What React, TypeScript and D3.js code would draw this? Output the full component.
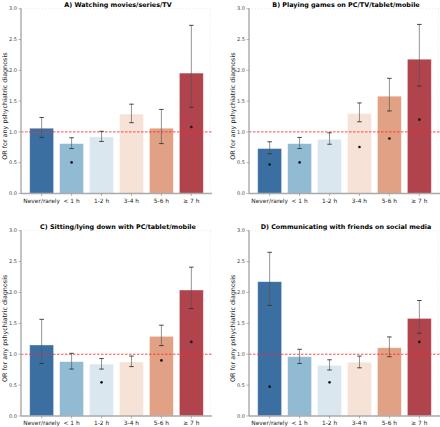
import React from "react";
import * as d3 from "d3";

const categories = ["Never/rarely", "< 1 h", "1-2 h", "3-4 h", "5-6 h", "\u2265 7 h"];
const colors = ["#3b6fa1", "#90bbd3", "#dbe7ef", "#f6e2d6", "#e1a184", "#b0434b"];
const yTicks = [0, 0.5, 1.0, 1.5, 2.0, 2.5, 3.0];

const titles = [
  "A) Watching movies/series/TV",
  "B) Playing games on PC/TV/tablet/mobile",
  "C) Sitting/lying down with PC/tablet/mobile",
  "D) Communicating with friends on social media",
];

const barsA = [1.06, 0.81, 0.92, 1.29, 1.06, 1.955];
const loA = [0.91, 0.73, 0.845, 1.15, 0.81, 1.40];
const hiA = [1.235, 0.905, 1.01, 1.45, 1.365, 2.73];
const dotsA = [null, 0.505, null, null, null, 1.08];

const barsB = [0.73, 0.81, 0.88, 1.30, 1.58, 2.18];
const loB = [0.645, 0.73, 0.80, 1.165, 1.34, 1.745];
const hiB = [0.84, 0.91, 0.985, 1.47, 1.87, 2.745];
const dotsB = [0.47, 0.505, null, 0.755, 0.893, 1.20];

const barsC = [1.15, 0.88, 0.84, 0.875, 1.29, 2.04];
const loC = [0.85, 0.76, 0.76, 0.80, 1.14, 1.74];
const hiC = [1.565, 1.015, 0.93, 0.97, 1.47, 2.41];
const dotsC = [null, null, 0.545, null, 0.90, 1.20];

const barsD = [2.175, 0.96, 0.82, 0.87, 1.106, 1.58];
const loD = [1.79, 0.85, 0.745, 0.78, 0.96, 1.34];
const hiD = [2.65, 1.08, 0.91, 0.97, 1.28, 1.87];
const dotsD = [0.475, null, 0.545, null, null, 1.20];

const panelData = [
  { bars: barsA, lo: loA, hi: hiA, dots: dotsA },
  { bars: barsB, lo: loB, hi: hiB, dots: dotsB },
  { bars: barsC, lo: loC, hi: hiC, dots: dotsC },
  { bars: barsD, lo: loD, hi: hiD, dots: dotsD },
];

const layouts = [
  { x0: 21, x1: 212, yTop: 8.7, yBot: 193.5 },
  { x0: 249, x1: 440, yTop: 8.7, yBot: 193.5 },
  { x0: 21, x1: 212, yTop: 230.7, yBot: 416 },
  { x0: 249, x1: 440, yTop: 230.7, yBot: 416 },
];

const FONT = "DejaVu Sans, sans-serif";

function Panel({ idx }: { idx: number }) {
  const L = layouts[idx];
  const D = panelData[idx];
  const x = d3.scaleLinear().domain([-0.69, 5.69]).range([L.x0, L.x1]);
  const y = d3.scaleLinear().domain([0, 3]).range([L.yBot, L.yTop]);
  const bw = x(0.8) - x(0);
  const cap = 4.5;
  return (
    <g>
      {/* faint dotted top/right frame */}
      <line x1={L.x0} x2={L.x1} y1={y(3)} y2={y(3)} stroke="#ddd" strokeWidth={0.6} strokeDasharray="1,2" />
      <line x1={L.x1 - 2} x2={L.x1 - 2} y1={y(3)} y2={L.yBot} stroke="#ddd" strokeWidth={0.6} strokeDasharray="1,2" />
      {D.bars.map((v, i) => (
        <rect
          key={"b" + i}
          x={x(i) - bw / 2}
          y={y(v)}
          width={bw}
          height={y(0) - y(v)}
          fill={colors[i]}
          stroke="#ffffff"
          strokeOpacity={0.5}
          strokeWidth={0.8}
        />
      ))}
      <line
        x1={L.x0}
        x2={L.x1}
        y1={y(1)}
        y2={y(1)}
        stroke="#ff2a2a"
        strokeOpacity={0.85}
        strokeWidth={1}
        strokeDasharray="2.5,1.5"
      />
      {D.bars.map((v, i) => (
        <g key={"e" + i}>
          <line x1={x(i)} x2={x(i)} y1={y(D.lo[i])} y2={y(D.hi[i])} stroke="#555" strokeOpacity={0.7} strokeWidth={0.9} />
          <line x1={x(i) - cap / 2} x2={x(i) + cap / 2} y1={y(D.lo[i])} y2={y(D.lo[i])} stroke="#333" strokeWidth={0.9} />
          <line x1={x(i) - cap / 2} x2={x(i) + cap / 2} y1={y(D.hi[i])} y2={y(D.hi[i])} stroke="#333" strokeWidth={0.9} />
        </g>
      ))}
      {D.dots.map((v, i) =>
        v == null ? null : <circle key={"d" + i} cx={x(i)} cy={y(v)} r={1.3} fill="#111" />
      )}
      {/* axes */}
      <line x1={L.x0} x2={L.x0} y1={y(3) - 0.5} y2={L.yBot} stroke="#aaa" strokeWidth={1.4} />
      <line x1={L.x0} x2={L.x1} y1={L.yBot} y2={L.yBot} stroke="#aaa" strokeWidth={1.4} />
      {yTicks.map((t) => (
        <g key={"yt" + t}>
          <line x1={L.x0 - 2.5} x2={L.x0} y1={y(t)} y2={y(t)} stroke="#888" strokeWidth={0.6} />
          <text x={L.x0 - 4} y={y(t)} dy="0.35em" textAnchor="end" fontSize={5} fill="#444" fontFamily={FONT}>
            {t.toFixed(1)}
          </text>
        </g>
      ))}
      {categories.map((c, i) => (
        <g key={"xt" + i}>
          <line x1={x(i)} x2={x(i)} y1={L.yBot} y2={L.yBot + 2.5} stroke="#888" strokeWidth={0.6} />
          <text x={x(i)} y={L.yBot + 9} textAnchor="middle" fontSize={5.9} fill="#222" fontFamily={FONT}>
            {c}
          </text>
        </g>
      ))}
      <text
        x={(L.x0 + L.x1) / 2 + 1.5}
        y={L.yTop - 1.5}
        textAnchor="middle"
        fontSize={6.4}
        fontWeight="bold"
        fill="#000"
        fontFamily={FONT}
      >
        {titles[idx]}
      </text>
      <text
        transform={`translate(${L.x0 - 14.5},${(L.yTop + L.yBot) / 2 + 5}) rotate(-90)`}
        textAnchor="middle"
        fontSize={6.4}
        fill="#222"
        fontFamily={FONT}
      >
        OR for any pshychiatric diagnosis
      </text>
    </g>
  );
}

export default function App() {
  return (
    <svg
      width={440}
      height={427}
      style={{ position: "absolute", left: 0, top: 0, background: "#fff" }}
    >
      <rect width={440} height={427} fill="#fff" />
      {[0, 1, 2, 3].map((i) => (
        <Panel key={i} idx={i} />
      ))}
    </svg>
  );
}
